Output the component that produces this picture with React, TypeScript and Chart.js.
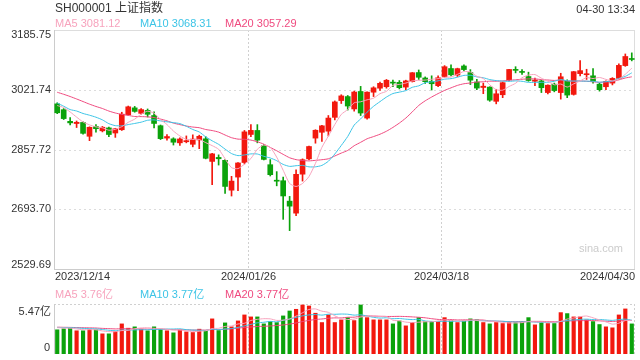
import React, { useEffect, useRef } from 'react';
import { Chart, registerables } from 'chart.js';
Chart.register(...registerables);

const opens = [2983,2967,2935,2929,2932,2894,2921,2909,2917,2903,
2912,2953,2972,2957,2965,2951,2923,2889,2887,2876,
2879,2872,2884,2887,2825,2836,2828,2746,2782,2822,
2899,2910,2868,2816,2772,2772,2716,2683,2790,2832,
2889,2905,2908,2946,2992,3003,2969,3017,2944,3015,
3026,3030,3041,3042,3029,3044,3069,3054,3045,3033,
3058,3080,3062,3087,3069,3043,3028,3029,2990,3008,
3049,3077,3072,3058,3045,3046,3014,3037,3014,3045,
3009,3066,3063,3060,3037,3030,3040,3053,3088,3107];

const highs = [2986,2970,2945,2936,2934,2920,2926,2921,2919,2916,
2960,2977,2976,2970,2969,2961,2925,2899,2890,2890,
2895,2898,2897,2893,2847,2843,2830,2784,2822,2910,
2926,2926,2872,2830,2797,2782,2729,2802,2832,2867,
2912,2924,2951,2991,3008,3006,3018,3031,3016,3030,
3043,3050,3048,3047,3048,3069,3076,3057,3060,3060,
3088,3090,3081,3090,3077,3050,3040,3030,3023,3043,
3078,3085,3077,3070,3054,3048,3035,3040,3067,3049,
3072,3102,3078,3080,3040,3046,3055,3093,3120,3123];

const lows = [2956,2940,2925,2918,2900,2882,2905,2906,2893,2891,
2910,2952,2960,2955,2947,2917,2885,2883,2870,2869,
2876,2865,2860,2832,2761,2815,2737,2730,2745,2818,
2893,2876,2829,2785,2758,2666,2635,2676,2771,2830,
2875,2880,2895,2939,2984,2966,2963,2951,2941,3003,
3020,3026,3030,3024,3022,3043,3050,3039,3021,3030,
3056,3060,3058,3074,3036,3022,3011,2990,2983,3000,
3046,3068,3064,3045,3033,3014,3010,3016,2996,3000,
3007,3060,3050,3040,3018,3022,3035,3050,3086,3101];

const closes = [2958.50,2942.56,2930.80,2932.39,2902.11,2918.72,2914.78,2918.81,2898.84,2914.61,
2954.70,2974.93,2962.28,2967.25,2954.35,2929.18,2887.54,2893.25,2877.70,2886.65,
2881.98,2886.29,2893.99,2833.62,2845.78,2832.28,2756.34,2770.98,2820.77,2906.11,
2910.22,2883.36,2830.53,2788.55,2770.74,2730.15,2702.19,2789.49,2829.70,2865.90,
2910.54,2922.73,2944.02,2988.36,3004.88,2977.02,3015.48,2957.85,3015.17,3027.02,
3039.31,3047.79,3039.93,3027.40,3046.02,3068.46,3055.94,3043.83,3038.23,3054.64,
3084.93,3062.76,3079.69,3077.11,3048.03,3026.31,3031.48,2993.14,3010.66,3041.17,
3077.38,3074.96,3069.30,3047.05,3048.54,3027.34,3034.25,3019.47,3057.38,3007.07,
3071.38,3074.22,3065.26,3044.60,3021.98,3044.82,3052.90,3088.64,3113.04,3104.82];

const ma5 = [2978.40,2973.00,2960.87,2946.60,2933.27,2925.32,2919.76,2917.36,2910.65,2913.15,
2920.35,2932.38,2941.07,2954.75,2962.70,2957.60,2940.12,2926.31,2908.40,2894.86,
2885.42,2885.17,2885.32,2876.51,2868.33,2858.39,2832.40,2807.80,2805.23,2817.30,
2832.88,2858.29,2870.20,2863.75,2836.68,2800.67,2764.43,2756.22,2764.45,2783.49,
2819.56,2863.67,2894.58,2926.31,2954.11,2967.40,2985.95,2988.72,2994.08,2998.51,
3010.97,3017.43,3033.84,3036.29,3040.09,3045.92,3047.55,3048.33,3050.50,3052.22,
3055.51,3056.88,3064.05,3071.83,3070.50,3058.78,3052.52,3035.21,3021.92,3020.55,
3030.77,3039.46,3054.69,3061.97,3063.45,3053.44,3045.30,3035.33,3037.40,3029.10,
3037.91,3045.90,3055.06,3052.51,3055.49,3050.18,3045.91,3050.59,3064.28,3080.84];

const ma10 = [2985.46,2976.55,2967.34,2963.35,2956.61,2951.86,2946.38,2939.12,2928.63,2923.21,
2922.83,2926.07,2929.22,2932.70,2937.93,2938.97,2936.25,2933.69,2931.58,2928.78,
2921.51,2912.65,2905.82,2892.46,2881.60,2871.91,2858.79,2846.56,2840.87,2842.81,
2845.64,2845.35,2839.00,2834.49,2826.99,2816.78,2811.36,2813.21,2814.10,2810.08,
2810.12,2814.05,2825.40,2845.38,2868.80,2893.48,2924.81,2941.65,2960.20,2976.31,
2989.18,3001.69,3011.28,3015.19,3019.30,3028.44,3032.49,3041.09,3043.39,3046.16,
3050.72,3052.21,3056.19,3061.16,3061.36,3057.15,3054.70,3049.63,3046.88,3045.53,
3044.77,3045.99,3044.95,3041.95,3042.00,3042.10,3042.38,3045.01,3049.68,3046.27,
3045.67,3045.60,3045.20,3044.95,3042.30,3044.04,3045.91,3052.83,3058.39,3068.17];

const ma20 = [3014.86,3009.27,3003.20,2996.42,2989.35,2982.19,2975.88,2970.23,2963.25,2957.89,
2954.15,2951.31,2948.28,2948.03,2947.27,2945.41,2941.31,2936.40,2930.10,2926.00,
2922.17,2919.36,2917.52,2912.58,2909.76,2905.44,2897.52,2890.13,2886.22,2885.80,
2883.57,2879.00,2872.41,2863.47,2854.29,2844.34,2835.07,2829.89,2827.49,2826.45,
2827.88,2829.70,2832.20,2839.94,2847.89,2855.13,2868.09,2877.43,2887.15,2893.20,
2899.65,2907.87,2918.34,2930.28,2944.05,2960.96,2978.65,2991.37,3001.79,3011.23,
3019.95,3026.95,3033.74,3038.17,3040.33,3042.80,3043.60,3045.36,3045.13,3045.84,
3047.75,3049.10,3050.57,3051.55,3051.68,3049.62,3048.54,3047.32,3048.28,3045.90,
3045.22,3045.80,3045.08,3043.45,3042.15,3043.07,3044.14,3048.92,3054.04,3057.22];

const volumes = [2.70,2.81,2.88,2.59,2.59,2.73,2.70,2.25,2.25,2.51,
3.36,2.88,3.03,2.77,2.59,3.03,2.77,2.59,2.36,2.70,
2.47,2.40,2.77,2.62,3.92,2.62,3.47,3.03,3.69,4.36,
4.14,4.14,3.36,3.62,3.51,4.25,4.80,4.99,5.47,5.36,
4.55,3.51,4.36,3.51,3.81,4.06,3.73,5.47,4.06,3.81,
3.81,3.81,3.36,3.69,3.14,3.51,4.06,3.62,3.62,3.62,
4.06,3.73,3.51,3.69,3.92,3.81,3.51,3.36,3.51,3.40,
3.51,3.51,3.55,4.06,3.25,3.55,3.40,3.40,4.62,4.51,
4.14,4.14,3.81,3.62,3.29,3.03,2.92,4.36,5.03,3.36];

const volMa5 = [2.94,2.90,2.88,2.80,2.71,2.72,2.70,2.57,2.50,2.49,
2.61,2.65,2.81,2.91,2.93,2.86,2.84,2.75,2.67,2.69,
2.58,2.50,2.54,2.59,2.84,2.87,3.08,3.13,3.35,3.43,
3.74,3.87,3.94,3.92,3.75,3.78,3.91,4.23,4.60,4.97,
5.03,4.78,4.65,4.26,3.95,3.85,3.89,4.12,4.23,4.23,
4.18,4.19,3.77,3.70,3.56,3.50,3.55,3.60,3.59,3.69,
3.80,3.73,3.71,3.72,3.78,3.73,3.69,3.66,3.62,3.52,
3.46,3.46,3.50,3.61,3.58,3.58,3.56,3.53,3.64,3.90,
4.01,4.16,4.24,4.04,3.80,3.58,3.33,3.44,3.73,3.74];

const volMa10 = [2.97,2.95,2.94,2.90,2.86,2.83,2.80,2.73,2.65,2.60,
2.67,2.67,2.69,2.71,2.71,2.74,2.74,2.78,2.79,2.81,
2.72,2.67,2.65,2.63,2.76,2.72,2.79,2.84,2.97,3.14,
3.30,3.48,3.54,3.64,3.59,3.76,3.89,4.09,4.26,4.36,
4.41,4.34,4.44,4.43,4.46,4.44,4.34,4.38,4.24,4.09,
4.01,4.04,3.94,3.96,3.89,3.84,3.87,3.69,3.64,3.62,
3.65,3.64,3.66,3.66,3.73,3.76,3.71,3.68,3.67,3.65,
3.60,3.57,3.58,3.61,3.55,3.52,3.51,3.51,3.63,3.74,
3.80,3.86,3.89,3.84,3.85,3.80,3.75,3.84,3.89,3.77];

const volMa20 = [2.99,2.98,2.97,2.95,2.93,2.92,2.90,2.86,2.83,2.80,
2.82,2.81,2.81,2.80,2.78,2.78,2.77,2.75,2.72,2.70,
2.69,2.67,2.67,2.67,2.74,2.73,2.77,2.81,2.88,2.97,
3.01,3.07,3.09,3.13,3.18,3.24,3.34,3.46,3.62,3.75,
3.85,3.91,3.99,4.03,4.03,4.10,4.11,4.23,4.25,4.23,
4.21,4.19,4.19,4.20,4.18,4.14,4.10,4.04,3.94,3.86,
3.83,3.84,3.80,3.81,3.81,3.80,3.79,3.69,3.66,3.64,
3.62,3.61,3.62,3.64,3.64,3.64,3.61,3.60,3.65,3.69,
3.70,3.72,3.73,3.73,3.70,3.66,3.63,3.68,3.76,3.75];

const priceTicks = [3185.75, 3021.74, 2857.72, 2693.70, 2529.69];
const xTickIndex = [0, 30, 60, 89];
const xTickLabels = ['2023/12/14', '2024/01/26', '2024/03/18', '2024/04/30'];
const title = 'SH000001 上证指数';
const timeText = '04-30 13:34';
const priceLegend = ['MA5 3081.12', 'MA10 3068.31', 'MA20 3057.29'];
const volLegend = ['MA5 3.76亿', 'MA10 3.77亿', 'MA20 3.77亿'];
const volMaxLabel = '5.47亿';

const UP = '#f2180e';
const DOWN = '#0ba20b';
const C_MA5 = '#f7a3bd';
const C_MA10 = '#3cc4e6';
const C_MA20 = '#ef4a7f';
const LEG_COLORS = [C_MA5, C_MA10, C_MA20];
const LEG_X = [55, 140, 225];
const FONT = '"Liberation Sans", Arial, "Noto Sans CJK SC", sans-serif';

function txt(ctx: CanvasRenderingContext2D, s: string, x: number, y: number, size: number, color: string, align: CanvasTextAlign, base: CanvasTextBaseline) {
  ctx.font = `${size}px ${FONT}`;
  ctx.fillStyle = color;
  ctx.textAlign = align;
  ctx.textBaseline = base;
  ctx.fillText(s, x, y);
}

function seg(ctx: CanvasRenderingContext2D, x1: number, y1: number, x2: number, y2: number) {
  ctx.beginPath();
  ctx.moveTo(x1, y1);
  ctx.lineTo(x2, y2);
  ctx.stroke();
}

function tickX(chart: any, idx: number) {
  const x = chart.scales.x;
  const half = (x.getPixelForValue(1) - x.getPixelForValue(0)) / 2;
  return Math.round(x.getPixelForValue(idx) - half) + 0.5;
}

const mainFrame = {
  id: 'mainFrame',
  beforeDatasetsDraw(chart: any) {
    const { ctx, chartArea: a, scales } = chart;
    ctx.save();
    ctx.lineWidth = 1;
    ctx.strokeStyle = '#dcdcdc';
    ctx.setLineDash([2, 3]);
    priceTicks.slice(1, -1).forEach((v) => {
      const py = Math.round(scales.y.getPixelForValue(v)) + 0.5;
      seg(ctx, a.left, py, a.right, py);
    });
    ctx.strokeStyle = '#d0d0d0';
    ctx.setLineDash([2, 2]);
    xTickIndex.slice(1, -1).forEach((i) => {
      const px = tickX(chart, i);
      seg(ctx, px, a.top, px, a.bottom);
    });
    ctx.setLineDash([]);
    ctx.strokeStyle = '#dddddd';
    seg(ctx, a.left, a.top + 0.5, a.right, a.top + 0.5);
    seg(ctx, a.right - 0.5, a.top, a.right - 0.5, a.bottom);
    ctx.strokeStyle = '#cccccc';
    seg(ctx, a.left + 0.5, a.top, a.left + 0.5, a.bottom + 1);
    seg(ctx, a.left, a.bottom + 0.5, a.right, a.bottom + 0.5);
    ctx.restore();
  },
  afterDraw(chart: any) {
    const { ctx, chartArea: a, scales } = chart;
    ctx.save();
    txt(ctx, title, 55, 8.5, 12, '#333', 'left', 'middle');
    txt(ctx, timeText, 635, 10, 11, '#333', 'right', 'middle');
    priceLegend.forEach((s, k) => txt(ctx, s, LEG_X[k], 23.5, 11, LEG_COLORS[k], 'left', 'middle'));
    priceTicks.forEach((v, k) => {
      const py = scales.y.getPixelForValue(v);
      if (k === 0) txt(ctx, v.toFixed(2), 51, py - 1, 11, '#333', 'right', 'top');
      else if (k === priceTicks.length - 1) txt(ctx, v.toFixed(2), 51, py - 1, 11, '#333', 'right', 'alphabetic');
      else txt(ctx, v.toFixed(2), 51, py, 11, '#333', 'right', 'middle');
    });
    xTickIndex.forEach((i, k) => {
      if (k === 0) txt(ctx, xTickLabels[k], a.left + 1, 277, 11, '#333', 'left', 'middle');
      else if (k === xTickIndex.length - 1) txt(ctx, xTickLabels[k], a.right, 277, 11, '#333', 'right', 'middle');
      else txt(ctx, xTickLabels[k], tickX(chart, i), 277, 11, '#333', 'center', 'middle');
    });
    txt(ctx, 'sina.com', 623, 249, 11, '#cccccc', 'right', 'middle');
    ctx.restore();
  },
};

const volFrame = {
  id: 'volFrame',
  beforeDatasetsDraw(chart: any) {
    const { ctx, chartArea: a } = chart;
    ctx.save();
    ctx.lineWidth = 1;
    ctx.strokeStyle = '#d0d0d0';
    ctx.setLineDash([2, 2]);
    seg(ctx, a.left, a.top + 0.5, a.right, a.top + 0.5);
    seg(ctx, a.right - 0.5, a.top, a.right - 0.5, a.bottom);
    xTickIndex.slice(1, -1).forEach((i) => {
      const px = tickX(chart, i);
      seg(ctx, px, a.top, px, a.bottom);
    });
    ctx.setLineDash([]);
    ctx.strokeStyle = '#cccccc';
    seg(ctx, a.left + 0.5, a.top, a.left + 0.5, a.bottom);
    ctx.restore();
  },
  afterDraw(chart: any) {
    const { ctx } = chart;
    ctx.save();
    volLegend.forEach((s, k) => txt(ctx, s, LEG_X[k], 294.5, 11, LEG_COLORS[k], 'left', 'middle'));
    txt(ctx, volMaxLabel, 51, 311.5, 11, '#333', 'right', 'middle');
    txt(ctx, '0', 50, 348, 11, '#333', 'right', 'middle');
    ctx.restore();
  },
};

function lineDs(label: string, data: number[], color: string, order: number) {
  return {
    type: 'line' as const,
    label,
    data,
    borderColor: color,
    borderWidth: 1,
    pointRadius: 0,
    tension: 0.2,
    fill: false,
    order,
  };
}

export default function App() {
  const mainRef = useRef<HTMLCanvasElement>(null);
  const volRef = useRef<HTMLCanvasElement>(null);

  useEffect(() => {
    const labels = closes.map((_, i) => String(i));
    const colors = closes.map((c, i) => (c >= opens[i] ? UP : DOWN));

    const main = new Chart(mainRef.current!, {
      type: 'bar',
      data: {
        labels,
        datasets: [
          lineDs('MA5', ma5, C_MA5, 0),
          lineDs('MA10', ma10, C_MA10, 1),
          lineDs('MA20', ma20, C_MA20, 2),
          {
            type: 'bar',
            label: 'body',
            data: opens.map((o, i) => [o, closes[i]]),
            backgroundColor: colors,
            barThickness: 5,
            minBarLength: 1,
            grouped: false,
            order: 3,
          } as any,
          {
            type: 'bar',
            label: 'wick',
            data: lows.map((l, i) => [l, highs[i]]),
            backgroundColor: colors,
            barThickness: 1,
            grouped: false,
            order: 4,
          } as any,
        ],
      },
      options: {
        responsive: false,
        animation: false,
        devicePixelRatio: 1,
        layout: { padding: { left: 54, right: 5, top: 30, bottom: 91 } },
        plugins: { legend: { display: false }, tooltip: { enabled: false } },
        scales: {
          x: { display: false, offset: true },
          y: { display: false, min: priceTicks[priceTicks.length - 1], max: priceTicks[0] },
        },
      },
      plugins: [mainFrame],
    });

    const vol = new Chart(volRef.current!, {
      type: 'bar',
      data: {
        labels,
        datasets: [
          lineDs('MA5', volMa5, C_MA5, 0),
          lineDs('MA10', volMa10, C_MA10, 1),
          lineDs('MA20', volMa20, C_MA20, 2),
          {
            type: 'bar',
            label: 'vol',
            data: volumes,
            backgroundColor: colors,
            barThickness: 3.5,
            grouped: false,
            order: 3,
          } as any,
        ],
      },
      options: {
        responsive: false,
        animation: false,
        devicePixelRatio: 1,
        layout: { padding: { left: 54, right: 5, top: 304, bottom: 6 } },
        plugins: { legend: { display: false }, tooltip: { enabled: false } },
        scales: {
          x: { display: false, offset: true },
          y: { display: false, min: 0, max: 5.58 },
        },
      },
      plugins: [volFrame],
    });

    return () => {
      main.destroy();
      vol.destroy();
    };
  }, []);

  const cs: React.CSSProperties = { position: 'absolute', left: 0, top: 0, width: 640, height: 360 };
  return (
    <div style={{ position: 'fixed', left: 0, top: 0, width: 640, height: 360, background: '#fff' }}>
      <canvas ref={mainRef} width={640} height={360} style={cs} />
      <canvas ref={volRef} width={640} height={360} style={cs} />
    </div>
  );
}
